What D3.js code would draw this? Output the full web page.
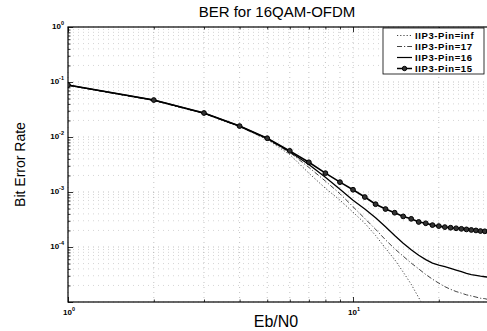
<!DOCTYPE html>
<html>
<head>
<meta charset="utf-8">
<script src="https://cdn.jsdelivr.net/npm/d3@7"></script>
<style>
  body { margin: 0; background: #fff; }
  svg { display: block; font-family: "Liberation Sans", Arial, sans-serif; }
</style>
</head>
<body>
<div id="chart"></div>
<script>
const width = 487;
const height = 331;

// Eb/N0 points (one per integer)
const ebn0 = d3.range(1, 31);

// BER, one value per Eb/N0 point
const berInf = [0.087, 0.046, 0.0267, 0.0153, 0.009, 4.8e-3, 2.2e-3, 1.17e-3, 7.1e-4, 4.3e-4,
  2.7e-4, 1.62e-4, 9.5e-5, 5.9e-5, 3.5e-5, 2.1e-5, 1.2e-5, 7.1e-6, 4e-6];
const ber17 = [0.087, 0.046, 0.0268, 0.0154, 0.0091, 5.25e-3, 2.8e-3, 1.58e-3, 9.3e-4, 5.4e-4,
  3.3e-4, 2.1e-4, 1.35e-4, 9.3e-5, 6.8e-5, 5.1e-5, 4.0e-5, 3.16e-5, 2.6e-5, 2.2e-5,
  1.9e-5, 1.7e-5, 1.55e-5, 1.45e-5, 1.35e-5, 1.29e-5, 1.23e-5, 1.17e-5, 1.15e-5, 1.1e-5];
const ber16 = [0.088, 0.047, 0.0272, 0.0157, 0.0094, 5.4e-3, 3.16e-3, 1.86e-3, 1.12e-3, 7.1e-4,
  4.9e-4, 3.4e-4, 2.34e-4, 1.62e-4, 1.17e-4, 8.9e-5, 7.1e-5, 5.9e-5, 5.1e-5, 4.7e-5,
  4.4e-5, 4.1e-5, 3.8e-5, 3.55e-5, 3.3e-5, 3.16e-5, 3.05e-5, 2.95e-5, 2.88e-5, 2.82e-5];
const ber15 = [0.088, 0.047, 0.0273, 0.0158, 0.0095, 5.6e-3, 3.47e-3, 2.2e-3, 1.51e-3, 1.10e-3,
  8.1e-4, 6.0e-4, 4.9e-4, 4.2e-4, 3.6e-4, 3.25e-4, 2.85e-4, 2.7e-4, 2.5e-4, 2.4e-4,
  2.3e-4, 2.24e-4, 2.19e-4, 2.14e-4, 2.09e-4, 2.04e-4, 2.0e-4, 1.95e-4, 1.93e-4, 1.9e-4];

const seriesNames = ['IIP3-Pin=inf', 'IIP3-Pin=17', 'IIP3-Pin=16', 'IIP3-Pin=15'];
const xTickExps = [0, 1];
const yTickExps = [0, -1, -2, -3, -4];

const margin = { top: 27, right: -2, bottom: 29, left: 68 };
const plot = {
  left: margin.left,
  top: margin.top,
  right: width - margin.right,
  bottom: height - margin.bottom,
};

const xScale = d3.scaleLog().domain([1, 30]).range([plot.left, plot.right]);
const yScale = d3.scaleLog().domain([1e-5, 1]).range([plot.bottom, plot.top]);

const svg = d3.select('#chart').append('svg')
  .attr('width', width).attr('height', height);

// tick values
const xMajor = [1, 10];
const xMinor = [2, 3, 4, 5, 6, 7, 8, 9, 20, 30];
const yMajor = d3.range(-5, 1).map((e) => Math.pow(10, e));
const yMinor = [];
for (let e = -5; e < 0; e++) {
  for (let k = 2; k <= 9; k++) yMinor.push(k * Math.pow(10, e));
}

// grid (faint, dotted)
const grid = svg.append('g').attr('class', 'grid')
  .attr('stroke', '#9a9a9a').attr('stroke-width', 0.6)
  .attr('stroke-dasharray', '1,4');
grid.selectAll('.gx').data(xMajor.concat(xMinor)).join('line')
  .attr('x1', (d) => xScale(d)).attr('x2', (d) => xScale(d))
  .attr('y1', plot.top).attr('y2', plot.bottom);
grid.selectAll('.gy').data(yMajor.concat(yMinor)).join('line')
  .attr('class', 'gy')
  .attr('x1', plot.left).attr('x2', plot.right)
  .attr('y1', (d) => yScale(d)).attr('y2', (d) => yScale(d))
  .attr('stroke-opacity', (d) => (yMajor.includes(d) ? 1 : 0.7));

// ticks (inside, like matlab)
function ticks(axisFn, scale, values, size, transform) {
  svg.append('g').attr('transform', transform)
    .call(axisFn(scale).tickValues(values).tickSize(size).tickFormat(''))
    .call((g) => g.select('.domain').remove())
    .selectAll('line').attr('stroke', '#000').attr('stroke-width', 0.8);
}
ticks(d3.axisLeft, yScale, yMajor, -5, `translate(${plot.left},0)`);
ticks(d3.axisLeft, yScale, yMinor, -2.5, `translate(${plot.left},0)`);
ticks(d3.axisBottom, xScale, xMajor, -5, `translate(0,${plot.bottom})`);
ticks(d3.axisBottom, xScale, xMinor, -2.5, `translate(0,${plot.bottom})`);
ticks(d3.axisTop, xScale, xMajor, -5, `translate(0,${plot.top})`);
ticks(d3.axisTop, xScale, xMinor, -2.5, `translate(0,${plot.top})`);

// box
svg.append('rect')
  .attr('x', plot.left).attr('y', plot.top)
  .attr('width', plot.right - plot.left).attr('height', plot.bottom - plot.top)
  .attr('fill', 'none').attr('stroke', '#000').attr('stroke-width', 1.2);

// tick labels: 10 with superscript exponent
function powLabel(g, x, y, exp, anchor) {
  const t = g.append('text').attr('x', x).attr('y', y)
    .attr('text-anchor', anchor).attr('font-size', 8).attr('font-weight', 'bold');
  t.append('tspan').text('10');
  t.append('tspan').attr('dy', -4).attr('font-size', 5.5).text(exp);
}
const labels = svg.append('g').attr('fill', '#000');
yTickExps.forEach((e) => powLabel(labels, plot.left - 4, yScale(Math.pow(10, e)) + 2, e, 'end'));
xTickExps.forEach((e) => powLabel(labels, xScale(Math.pow(10, e)) + 1, plot.bottom + 13, e, 'middle'));

// curves
svg.append('clipPath').attr('id', 'clip').append('rect')
  .attr('x', plot.left).attr('y', plot.top)
  .attr('width', plot.right - plot.left).attr('height', plot.bottom - plot.top);

const line = d3.line()
  .x((d, i) => xScale(ebn0[i]))
  .y((d) => yScale(d));

const curves = svg.append('g').attr('clip-path', 'url(#clip)').attr('fill', 'none');
curves.append('path').datum(berInf).attr('d', line)
  .attr('stroke', '#444').attr('stroke-width', 1).attr('stroke-dasharray', '1.2,2');
curves.append('path').datum(ber17).attr('d', line)
  .attr('stroke', '#444').attr('stroke-width', 1).attr('stroke-dasharray', '5,2,1.2,2');
curves.append('path').datum(ber16).attr('d', line)
  .attr('stroke', '#000').attr('stroke-width', 1.3);
curves.append('path').datum(ber15).attr('d', line)
  .attr('stroke', '#000').attr('stroke-width', 1.6);
curves.selectAll('circle').data(ber15).join('circle')
  .attr('cx', (d, i) => xScale(ebn0[i]))
  .attr('cy', (d) => yScale(d))
  .attr('r', 2.4)
  .attr('fill', '#333').attr('stroke', '#000').attr('stroke-width', 1);

// legend
const legend = svg.append('g');
legend.append('rect')
  .attr('x', 383).attr('y', 28).attr('width', 101).attr('height', 46)
  .attr('fill', '#fff').attr('stroke', '#000').attr('stroke-width', 0.8);
const legendStyles = [
  { stroke: '#444', width: 1, dash: '1.2,2' },
  { stroke: '#444', width: 1, dash: '5,2,1.2,2' },
  { stroke: '#000', width: 1.2, dash: null },
  { stroke: '#000', width: 1.5, dash: null, marker: true },
];
seriesNames.forEach((name, i) => {
  const y = 35.5 + i * 11;
  const s = legendStyles[i];
  legend.append('line')
    .attr('x1', 397).attr('x2', 412).attr('y1', y).attr('y2', y)
    .attr('stroke', s.stroke).attr('stroke-width', s.width)
    .attr('stroke-dasharray', s.dash);
  if (s.marker) {
    legend.append('circle').attr('cx', 404.5).attr('cy', y).attr('r', 2.2)
      .attr('fill', '#333').attr('stroke', '#000').attr('stroke-width', 1);
  }
  legend.append('text').attr('x', 415).attr('y', y + 3.3)
    .attr('font-size', 9.5).attr('font-weight', 'bold')
    .attr('letter-spacing', 0.6).text(name);
});

// titles
svg.append('text').attr('x', (plot.left + 486) / 2).attr('y', 17)
  .attr('text-anchor', 'middle').attr('font-size', 15)
  .text('BER for 16QAM-OFDM');
svg.append('text').attr('x', 276).attr('y', 327)
  .attr('text-anchor', 'middle').attr('font-size', 16)
  .text('Eb/N0');
svg.append('text')
  .attr('transform', `translate(25,${(plot.top + plot.bottom) / 2}) rotate(-90)`)
  .attr('text-anchor', 'middle').attr('font-size', 14)
  .text('Bit Error Rate');
</script>
</body>
</html>
